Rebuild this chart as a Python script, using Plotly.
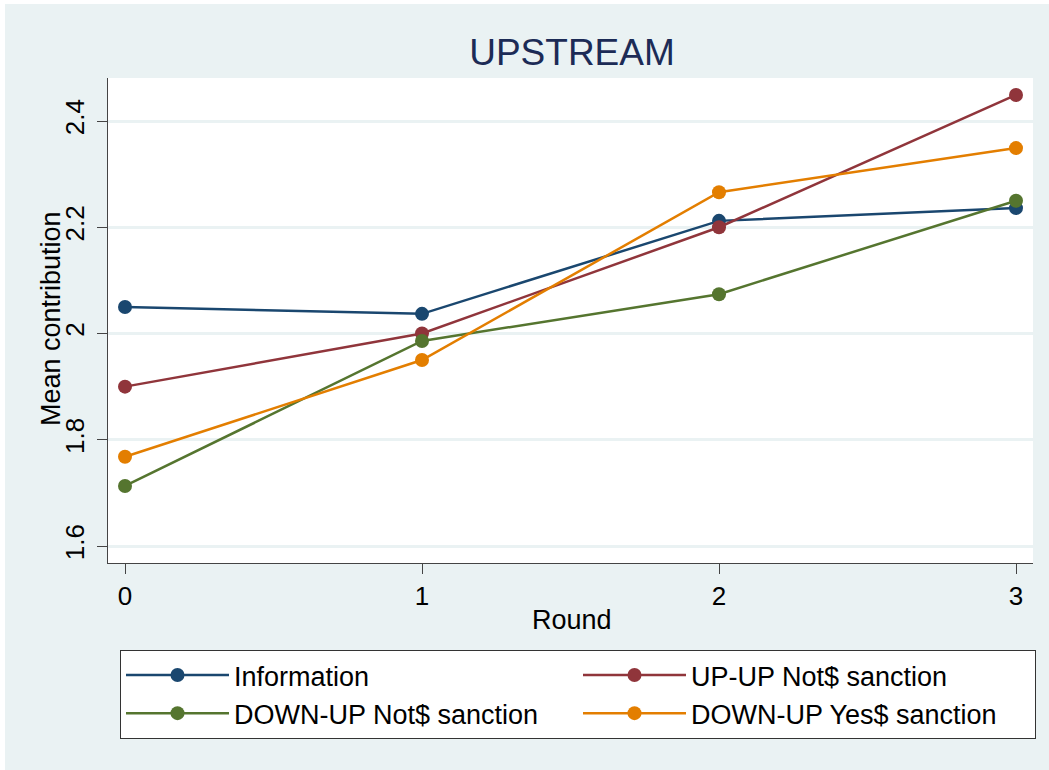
import plotly.graph_objects as go

rounds = [0, 1, 2, 3]
series_names = ["Information", "UP-UP Not$ sanction", "DOWN-UP Not$ sanction", "DOWN-UP Yes$ sanction"]
information = [2.050, 2.037, 2.212, 2.236]
upup_not = [1.900, 2.000, 2.200, 2.449]
downup_not = [1.713, 1.986, 2.074, 2.250]
downup_yes = [1.768, 1.950, 2.266, 2.349]
colors = ["#1A476F", "#90353B", "#55752F", "#E37E00"]
y_ticks = [1.6, 1.8, 2.0, 2.2, 2.4]
y_tick_labels = ["1.6", "1.8", "2", "2.2", "2.4"]
x_ticks = [0, 1, 2, 3]

W, H = 1049, 770
L, R, T, B = 108, 1033, 78, 563
FONT = "Arial, Liberation Sans, sans-serif"
BG = "#EAF2F3"

fig = go.Figure()
for name, vals, c in zip(series_names, [information, upup_not, downup_not, downup_yes], colors):
    fig.add_trace(go.Scatter(
        x=rounds, y=vals, name=name, mode="lines+markers",
        line=dict(color=c, width=2.5),
        marker=dict(color=c, size=14, symbol="circle"),
    ))

pw, ph = R - L, B - T
def px2paper_x(p):
    return (p - L) / pw
def px2paper_y(p):
    return (B - p) / ph

shapes = [
    dict(type="rect", xref="paper", yref="paper", layer="below",
         x0=px2paper_x(-2), x1=px2paper_x(5), y0=px2paper_y(H + 2), y1=px2paper_y(-2),
         fillcolor="white", line=dict(width=0)),
    dict(type="rect", xref="paper", yref="paper", layer="below",
         x0=px2paper_x(-2), x1=px2paper_x(W + 2), y0=px2paper_y(4), y1=px2paper_y(-2),
         fillcolor="white", line=dict(width=0)),
]

annotations = [
    dict(text="Round", xref="paper", yref="paper", x=px2paper_x(572), y=px2paper_y(620),
         xanchor="center", yanchor="middle", showarrow=False, font=dict(size=27)),
    dict(text="Mean contribution", xref="paper", yref="paper", x=px2paper_x(51), y=px2paper_y(319),
         xanchor="center", yanchor="middle", textangle=-90, showarrow=False, font=dict(size=27)),
]

fig.update_layout(
    width=W, height=H,
    margin=dict(l=L, r=W - R, t=T, b=H - B, pad=0, autoexpand=False),
    paper_bgcolor=BG, plot_bgcolor="white",
    font=dict(family=FONT, size=27, color="black"),
    title=dict(text="UPSTREAM", x=572 / W, xanchor="center", y=1 - 52 / H, yanchor="middle",
               font=dict(family=FONT, size=37, color="#1C2B56")),
    xaxis=dict(
        range=[(L - 125) / 297, (R - 125) / 297],
        tickvals=x_ticks, ticktext=[str(v) for v in x_ticks],
        ticks="outside", ticklen=10, tickwidth=1, tickcolor="#444",
        showline=True, linecolor="#444", linewidth=1, mirror=False,
        showgrid=False, zeroline=False,
        tickfont=dict(size=26), ticklabelstandoff=0,
    ),
    yaxis=dict(
        range=[1.6 - (B - 546) / 531.25, 2.4 + (121 - T) / 531.25],
        tickvals=y_ticks, ticktext=y_tick_labels, tickangle=-90,
        ticks="outside", ticklen=10, tickwidth=1, tickcolor="#444",
        showline=True, linecolor="#444", linewidth=1, mirror=False,
        showgrid=True, gridcolor=BG, gridwidth=2.5, zeroline=False,
        tickfont=dict(size=26), ticklabelstandoff=3,
    ),
    legend=dict(
        orientation="h", x=px2paper_x(120), xanchor="left", y=px2paper_y(650), yanchor="top",
        bgcolor="white", bordercolor="#333", borderwidth=1,
        entrywidth=339, entrywidthmode="pixels",
        font=dict(size=27), itemwidth=103, tracegroupgap=0,
    ),
    shapes=shapes,
    annotations=annotations,
    showlegend=True,
)

fig.write_html("out.html", config={"displayModeBar": False},
               post_script="document.body.style.margin='0px';")
